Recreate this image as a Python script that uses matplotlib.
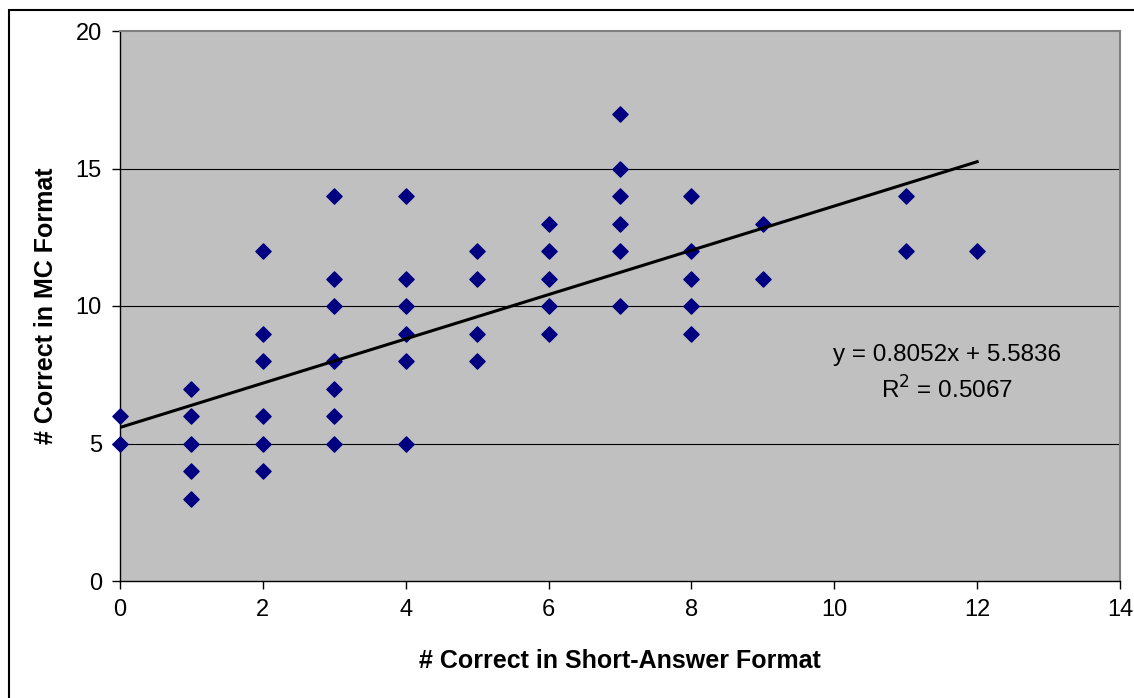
import matplotlib.pyplot as plt
from matplotlib.patches import Rectangle

plt.rcParams['font.family'] = ['Liberation Sans', 'DejaVu Sans']

# scores per student: short-answer (x) vs multiple-choice (y)
short_answer = [0, 0,
                1, 1, 1, 1, 1,
                2, 2, 2, 2, 2, 2,
                3, 3, 3, 3, 3, 3, 3,
                4, 4, 4, 4, 4, 4,
                5, 5, 5, 5,
                6, 6, 6, 6, 6,
                7, 7, 7, 7, 7, 7,
                8, 8, 8, 8, 8,
                9, 9,
                11, 11,
                12]
mc_format = [6, 5,
             7, 6, 5, 4, 3,
             12, 9, 8, 6, 5, 4,
             14, 11, 10, 8, 7, 6, 5,
             14, 11, 10, 9, 8, 5,
             12, 11, 9, 8,
             13, 12, 11, 10, 9,
             17, 15, 14, 13, 12, 10,
             14, 12, 11, 10, 9,
             13, 11,
             14, 12,
             12]

slope = 0.8052
intercept = 5.5836
r_squared = 0.5067
x_ticks = [0, 2, 4, 6, 8, 10, 12, 14]
y_ticks = [0, 5, 10, 15, 20]

fig = plt.figure(figsize=(11.34, 6.98), dpi=100)
# chart border (only top and left fall inside the picture)
fig.patches.append(Rectangle((9 / 1134, -0.1), 1.2, 1.1 - 10 / 698,
                             transform=fig.transFigure, fill=False,
                             edgecolor='black', linewidth=1.5))
ax = fig.add_axes([120 / 1134, 117 / 698, 1000 / 1134, 550 / 698])
ax.set_facecolor('#C0C0C0')

for y in y_ticks[1:-1]:
    ax.axhline(y, color='black', linewidth=0.8, zorder=1)

ax.scatter(short_answer, mc_format, marker='D', s=60, color='#000080',
           zorder=3, clip_on=False)

x_fit = [0, max(short_answer)]
y_fit = [slope * x + intercept for x in x_fit]
ax.plot(x_fit, y_fit, color='black', linewidth=2.2, zorder=4)

ax.text(11.58, 8.2, f"y = {slope}x + {intercept}", ha='center', va='center',
        fontsize=17.5)
ax.text(11.58, 6.95, f"R$^2$ = {r_squared}", ha='center', va='center',
        fontsize=17.5)

ax.set_xlim(0, 14)
ax.set_ylim(0, 20)
ax.set_xticks(x_ticks)
ax.set_yticks(y_ticks)
ax.tick_params(labelsize=17, length=6, width=1, color='black', pad=7)

for side in ['top', 'right']:
    ax.spines[side].set_color('#808080')
    ax.spines[side].set_linewidth(1.5)
for side in ['left', 'bottom']:
    ax.spines[side].set_color('black')
    ax.spines[side].set_linewidth(1)

ax.set_xlabel("# Correct in Short-Answer Format", fontsize=18,
              fontweight='bold', labelpad=20)
ax.set_ylabel("# Correct in MC Format", fontsize=18,
              fontweight='bold', labelpad=13)

fig.savefig("out.png", dpi=100)
